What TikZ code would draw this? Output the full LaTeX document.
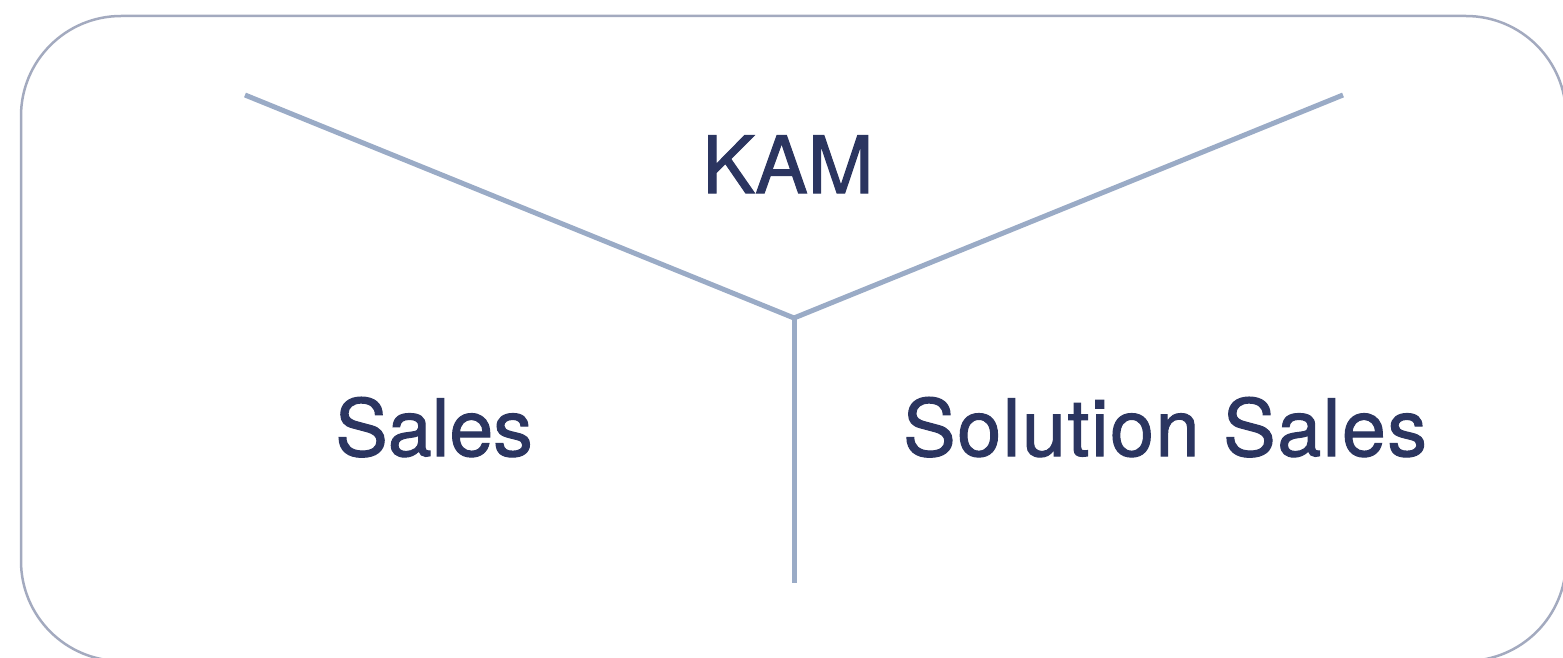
\documentclass[tikz,border=0pt]{standalone}
\usepackage{fontspec}
\setmainfont{TeX Gyre Heros}[FakeBold=1.3]
\definecolor{boxc}{HTML}{A3AABF}
\definecolor{linec}{HTML}{9AABC6}
\definecolor{txtc}{HTML}{2B3560}
\tikzset{
  frame/.style={draw=boxc,line width=2.5pt,rounded corners=100pt},
  branch/.style={draw=linec,line width=5pt,line join=miter},
  label/.style={text=txtc,font=\fontsize{79}{84}\selectfont,inner sep=0pt,anchor=base}
}
\begin{document}
\begin{tikzpicture}[x=1pt,y=-1pt]
\useasboundingbox (0,0) rectangle (1563,658);
\clip (0,0) rectangle (1563,658);
\draw[frame] (21,16) rectangle (1566,661);
\coordinate (j) at (794,318);
\coordinate (l) at (245,95);
\coordinate (r) at (1343,95);
\coordinate (b) at (794,583);
\draw[branch] (l) -- (j) -- (r);
\draw[branch] (j) -- (b);
\node[label] (kam) at (788,193) {KAM};
\node[label] (sales) at (434,456) {Sales};
\node[label] (sol) at (1165,456) {\addfontfeatures{LetterSpace=2}Solution Sales};
\end{tikzpicture}
\end{document}
